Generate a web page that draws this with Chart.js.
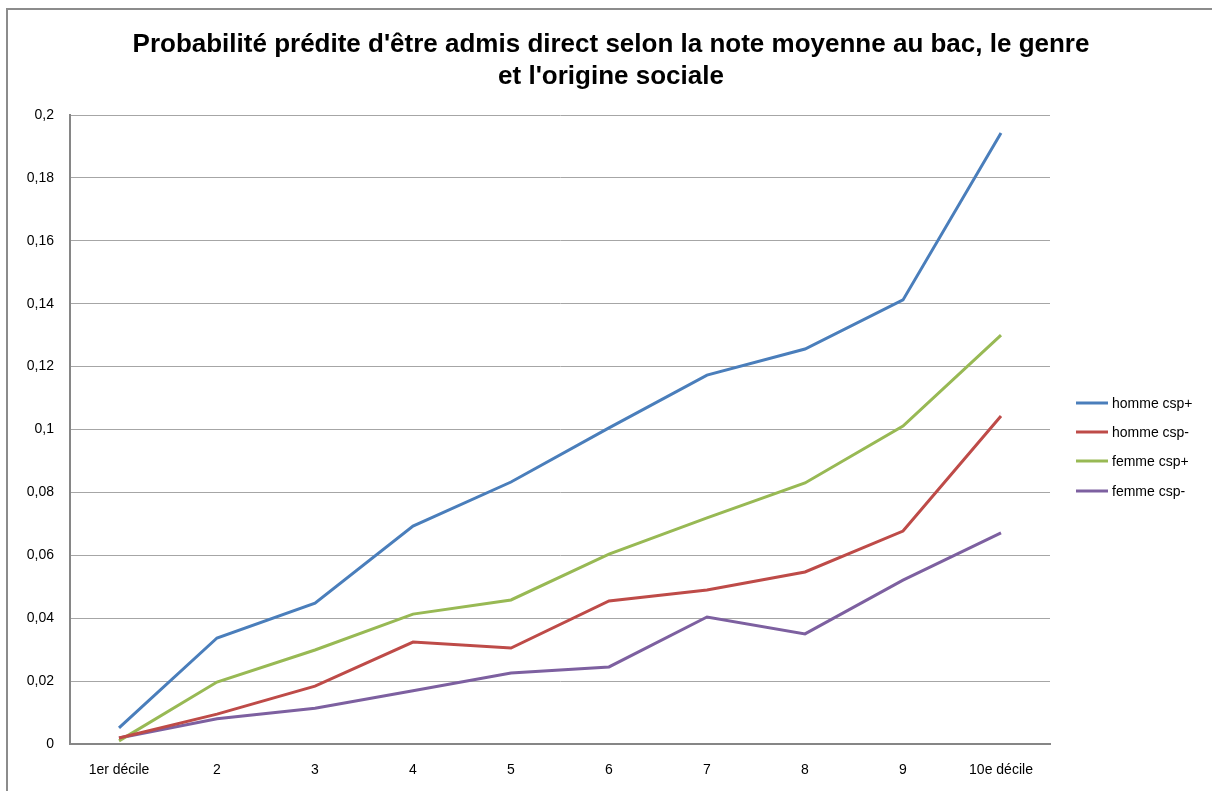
<!DOCTYPE html>
<html>
<head>
<meta charset="utf-8">
<script src="https://cdn.jsdelivr.net/npm/chart.js@4"></script>
<style>
    html, body { margin: 0; padding: 0; background: #fff; overflow: hidden; }
    #frame {
        position: absolute; left: 6px; top: 8px; width: 1300px; height: 900px;
        border-left: 2px solid #8c8c8c; border-top: 2px solid #8c8c8c;
    }
    #wrap { position: absolute; left: 0; top: 0; width: 1212px; height: 791px; }
</style>
</head>
<body>
<div id="frame"></div>
<div id="wrap"><canvas id="chart" width="1212" height="791"></canvas></div>
<script>
// Categories (deciles of the bac average grade)
const deciles = ['1er décile', '2', '3', '4', '5', '6', '7', '8', '9', '10e décile'];

// Predicted probability per group
const hommeCspPlus  = [0.0051, 0.0337, 0.0448, 0.0693, 0.0833, 0.1005, 0.1173, 0.1256, 0.1412, 0.1943];
const hommeCspMoins = [0.0019, 0.0095, 0.0184, 0.0324, 0.0305, 0.0455, 0.0490, 0.0547, 0.0677, 0.1043];
const femmeCspPlus  = [0.0010, 0.0197, 0.0299, 0.0413, 0.0458, 0.0604, 0.0719, 0.0830, 0.1011, 0.1300];
const femmeCspMoins = [0.0019, 0.0080, 0.0114, 0.0169, 0.0226, 0.0245, 0.0404, 0.0350, 0.0521, 0.0671];

const seriesLabels = ['homme csp+', 'homme csp-', 'femme csp+', 'femme csp-'];
const seriesColors = ['#4a7ebb', '#be4b48', '#98b954', '#7d60a0'];

const titleLines = [
    "Probabilité prédite d'être admis direct selon la note moyenne au bac, le genre",
    "et l'origine sociale"
];

const baseFont = 'Liberation Sans, Arial, sans-serif';

function makeDataset(i, values) {
    return {
        label: seriesLabels[i],
        data: values,
        borderColor: seriesColors[i],
        backgroundColor: seriesColors[i],
        borderWidth: 3,
        pointRadius: 0,
        tension: 0
    };
}

// Title centred on the whole picture (not just the plot), like Excel
const pageTitle = {
    id: 'pageTitle',
    afterDraw(chart) {
        const ctx = chart.ctx;
        ctx.save();
        ctx.font = 'bold 26px ' + baseFont;
        ctx.fillStyle = '#000';
        ctx.textAlign = 'center';
        ctx.textBaseline = 'middle';
        titleLines.forEach((line, i) => {
            ctx.fillText(line, 611, 45 + i * 32);
        });
        ctx.restore();
    }
};

// Excel-like legend on the right, line samples + labels
const sideLegend = {
    id: 'sideLegend',
    afterDraw(chart) {
        const ctx = chart.ctx;
        const x0 = chart.chartArea.right + 26;
        const ys = [403, 432, 461, 491];
        ctx.save();
        ctx.font = '14px ' + baseFont;
        ctx.textBaseline = 'middle';
        ctx.fillStyle = '#000';
        chart.data.datasets.forEach((ds, i) => {
            ctx.strokeStyle = ds.borderColor;
            ctx.lineWidth = 3;
            ctx.beginPath();
            ctx.moveTo(x0, ys[i]);
            ctx.lineTo(x0 + 32, ys[i]);
            ctx.stroke();
            ctx.fillText(ds.label, x0 + 36, ys[i] + 1);
        });
        ctx.restore();
    }
};

new Chart(document.getElementById('chart').getContext('2d'), {
    type: 'line',
    data: {
        labels: deciles,
        datasets: [
            makeDataset(0, hommeCspPlus),
            makeDataset(1, hommeCspMoins),
            makeDataset(2, femmeCspPlus),
            makeDataset(3, femmeCspMoins)
        ]
    },
    options: {
        responsive: false,
        animation: false,
        layout: { padding: { left: 0, right: 162, top: 115, bottom: 0 } },
        plugins: {
            legend: { display: false },
            tooltip: { enabled: false },
            title: { display: false }
        },
        scales: {
            x: {
                offset: true,
                grid: { display: false, drawTicks: false },
                border: { color: '#868686', width: 2 },
                ticks: { color: '#000', font: { family: baseFont, size: 14 }, padding: 18, maxRotation: 0, autoSkip: false },
                afterFit(scale) { scale.height = 47; }
            },
            y: {
                min: 0,
                max: 0.2,
                grid: { color: '#a6a6a6', lineWidth: 1, drawTicks: false },
                border: { color: '#868686', width: 2 },
                ticks: {
                    stepSize: 0.02,
                    color: '#000',
                    font: { family: baseFont, size: 14 },
                    padding: 16,
                    callback: (v) => String(Math.round(v * 100) / 100).replace('.', ',')
                },
                afterFit(scale) { scale.width = 70; }
            }
        }
    },
    plugins: [pageTitle, sideLegend]
});
</script>
</body>
</html>
